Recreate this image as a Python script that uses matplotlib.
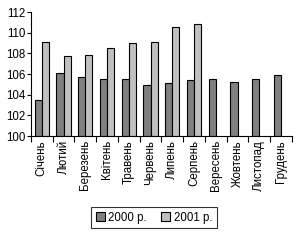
import matplotlib
matplotlib.use("Agg")
import matplotlib.pyplot as plt
import numpy as np

plt.rcParams['font.family'] = ['Liberation Sans', 'DejaVu Sans']

months = ["Січень", "Лютий", "Березень", "Квітень", "Травень", "Червень",
          "Липень", "Серпень", "Вересень", "Жовтень", "Листопад", "Грудень"]
v2000 = [103.5, 106.1, 105.7, 105.5, 105.5, 104.9, 105.1, 105.4, 105.5, 105.2, 105.5, 105.9]
v2001 = [109.1, 107.7, 107.8, 108.5, 109.0, 109.1, 110.6, 110.8]
series_labels = ["2000 р.", "2001 р."]
yticks = [100, 102, 104, 106, 108, 110, 112]

fig = plt.figure(figsize=(3.0, 2.42), dpi=100)
ax = fig.add_axes([0.103, 0.438, 0.870, 0.512])

x = np.arange(len(months))
w = 0.33
ax.bar(x[:len(v2000)] - w/2, np.array(v2000) - 100, bottom=100, width=w,
       color="#808080", edgecolor="black", linewidth=0.8, label=series_labels[0])
ax.bar(x[:len(v2001)] + w/2, np.array(v2001) - 100, bottom=100, width=w,
       color="#C0C0C0", edgecolor="black", linewidth=0.8, label=series_labels[1])

ax.set_ylim(100, 112)
ax.set_xlim(-0.5, len(months) - 0.5)
ax.set_yticks(yticks)
ax.set_yticklabels([str(t) for t in yticks], fontsize=8.3)
ax.set_xticks(x)
ax.set_xticklabels(months, rotation=90, fontsize=8.3)
ax.tick_params(axis='x', length=0, pad=3)
ax.set_xticks(np.arange(-0.5, len(months) + 0.5, 1), minor=True)
ax.tick_params(axis='x', which='minor', length=4, width=0.8, direction='out')
ax.tick_params(axis='y', length=3, width=0.8, direction='out', pad=1)
for s in ['top', 'right']:
    ax.spines[s].set_visible(False)
for s in ['left', 'bottom']:
    ax.spines[s].set_linewidth(0.8)

leg = fig.legend(loc='center', bbox_to_anchor=(0.513, 0.10), ncol=2, fontsize=8.3,
                 frameon=True, fancybox=False, edgecolor='black',
                 handlelength=0.8, handleheight=0.8, handletextpad=0.3,
                 columnspacing=1.2, borderpad=0.4)
leg.get_frame().set_linewidth(0.8)

fig.savefig("out.png", dpi=100)
